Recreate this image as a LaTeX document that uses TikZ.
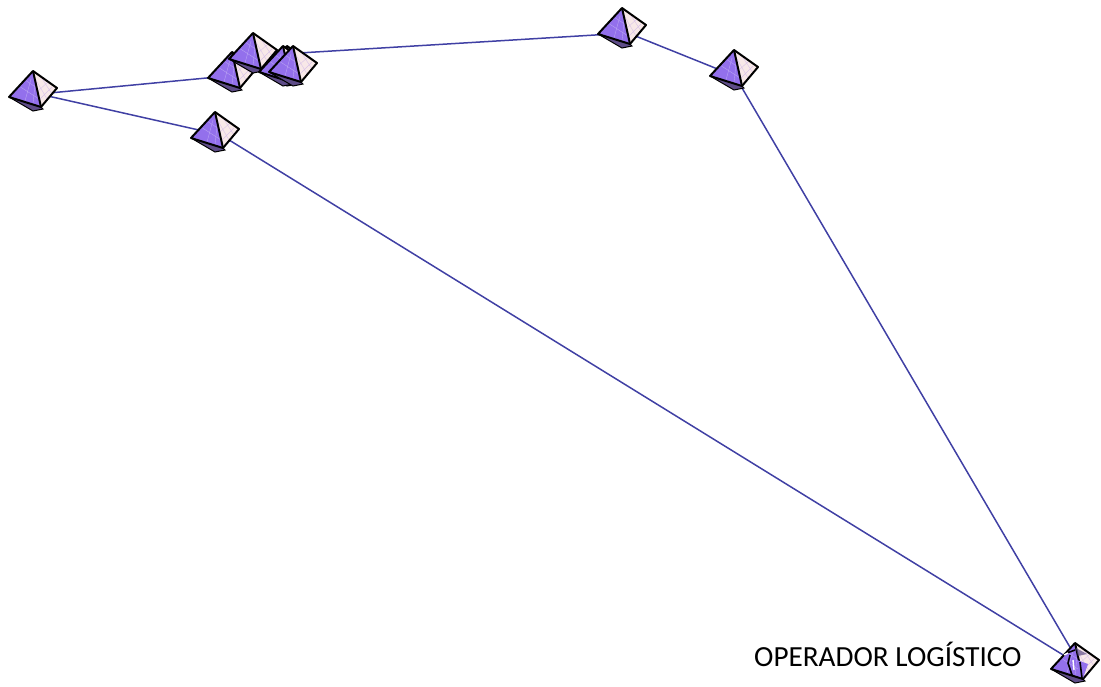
\documentclass[tikz,border=0pt]{standalone}
\usepackage{fontspec}
\setmainfont{Carlito}
\definecolor{routeblue}{HTML}{4040A4}
\definecolor{facepurple}{HTML}{9370EC}
\definecolor{facepink}{HTML}{F8E8E8}
\definecolor{faceshadow}{HTML}{5E4C88}
\tikzset{
    route/.style={draw=routeblue,line width=1.5pt},
    hatchleft/.style={draw=white,opacity=0.35,line width=0.4pt},
    hatchright/.style={draw=facepurple,opacity=0.3,line width=0.4pt},
    pyramid/.pic={
        \fill[faceshadow] (-24,26) -- (0,40) -- (10,38) -- (8,36) -- cycle;
        \fill[facepurple] (0,0) -- (-24,26) -- (8,36) -- cycle;
        \fill[facepink] (0,0) -- (24,17) -- (8,36) -- cycle;
        \draw[hatchleft] (-14,15) -- (6,28) (-8,9) -- (4,17) (-8,30) -- (-2,8) (0,33) -- (2,14);
        \draw[hatchright] (3,9) -- (14,28) (8,6) -- (19,23) (5,20) -- (16,10) (6,29) -- (19,16);
        \draw[black,line width=2pt,line join=round] (0,0) -- (-24,26) -- (8,36) -- (24,17) -- cycle;
        \draw[black,line width=2pt] (0,0) -- (8,36);
        \draw[black,line width=1pt] (-24,26) -- (0,40) -- (10,38) -- (8,36);
    }
}
\begin{document}
\begin{tikzpicture}[x=1pt,y=-1pt]
    \useasboundingbox (0,0) rectangle (1101,686);

    \coordinate (1) at (39,94);
    \coordinate (2) at (221,135);
    \coordinate (3) at (238,75);
    \coordinate (4) at (299,53);
    \coordinate (5) at (628,33);
    \coordinate (6) at (735,76);
    \coordinate (7) at (1081,666);

    \path[route] (1) -- (3);
    \path[route] (1) -- (2);
    \path[route] (4) -- (5);
    \path[route] (5) -- (6);
    \path[route] (6) -- (7);
    \path[route] (2) -- (7);

    \pic at (33,71) {pyramid};
    \pic at (215,112) {pyramid};
    \pic at (232,52) {pyramid};
    \pic at (253,33) {pyramid};
    \pic at (287,46) {pyramid};
    \pic at (283,46) {pyramid};
    \pic at (293,46) {pyramid};
    \pic at (622,8) {pyramid};
    \pic at (734,50) {pyramid};
    \pic at (1075,643) {pyramid};

    % marks on the last one
    \fill[faceshadow,opacity=0.7] (1076,648) -- (1087,654) -- (1078,656) -- cycle;
    \fill[facepurple] (1077,660) -- (1088,664) -- (1083,678) -- (1079,676) -- cycle;
    \draw[black,line width=1.6pt] (1067,653) -- (1075,650) (1070,655) -- (1068,663) -- (1072,675) (1080,662) -- (1082,678);
    \draw[white,line width=1.4pt] (1064,655) -- (1068,653) (1073,660) -- (1074,670);

    \node[font=\fontsize{29.2}{34}\selectfont,anchor=west,inner sep=0pt] (8) at (754,654.5) {OPERADOR LOGÍSTICO};
\end{tikzpicture}
\end{document}
